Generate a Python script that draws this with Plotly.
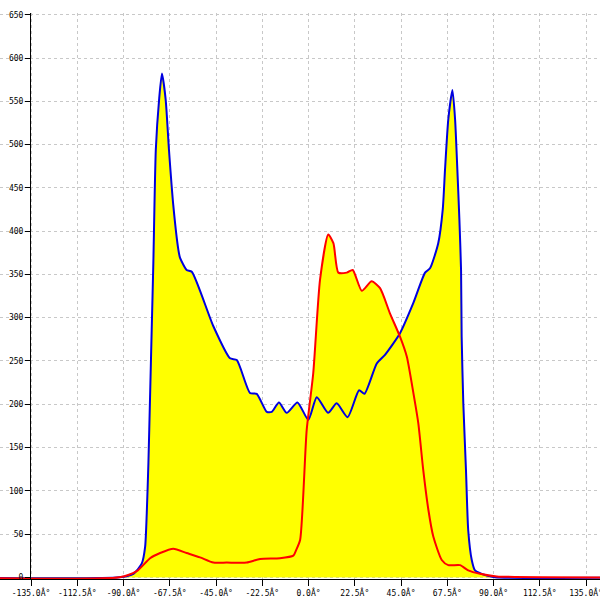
import plotly.graph_objects as go

# angle (deg) and counts
blue_x = [-180, -92, -85.2, -81.1, -79.5, -78.7, -77.9, -77.1, -76.3, -75.5, -74.3, -72.7, -71.3,
          -69.5, -67.9, -65.8, -63.3, -62.5, -59.3, -56.8, -46.3, -38.2, -34.9, -28.5, -25.2,
          -20.3, -17.9, -14.4, -10.6, -5.4, -0.1, 4.0, 9.5, 13.7, 19.0, 24.6, 27.2, 33.2, 37.2,
          44.5, 51.0, 56.7, 59.1, 63.1, 65.3, 66.4, 68.0, 70.0, 71.3, 72.4, 73.4, 74.2, 74.5,
          75.3, 76.6, 77.7, 79.4, 81.0, 86.7, 90.7, 180]
blue_y = [0, 0, 4, 16, 35, 74, 132, 208, 286, 363, 494, 552, 582,
          552, 494, 430, 378, 369, 355, 353, 290, 253, 251, 213, 212,
          191, 191, 202, 190, 202, 182, 208, 190, 201, 185, 216, 212, 247, 257,
          282, 317, 352, 357, 386, 425, 471, 529, 563, 529, 471, 413, 355, 278,
          201, 124, 54, 20, 8, 2, 0, 0]

red_x = [-180, -92, -83.6, -77.1, -72.2, -65.8, -59.3, -52.8, -46.3, -39.8, -30.1, -23.6, -13.9,
         -7.4, -6.1, -4.1, -0.9, 2.3, 5.6, 9.6, 12.1, 14.5, 18.6, 21.5, 25.9, 30.7, 34.8,
         39.6, 44.5, 47.8, 51.0, 53.4, 55.8, 58.3, 60.7, 64.8, 68.0, 73.7, 77.7, 83.4, 91.6, 180]
red_y = [0, 0, 7, 22, 28, 33, 28, 23, 17, 17, 17, 21, 22,
         25, 31, 43, 170, 236, 344, 396, 386, 352, 352, 355, 331, 342, 334,
         305, 278, 255, 213, 178, 124, 78, 47, 20, 14, 14, 8, 4, 1, 0]

tick_vals = [-135, -112.5, -90, -67.5, -45, -22.5, 0, 22.5, 45, 67.5, 90, 112.5, 135]
tick_text = ["%.1fÂ°" % v for v in tick_vals]
y_ticks = list(range(0, 651, 50))

fig = go.Figure()
# yellow fills first, lines on top
for xs, ys in [(blue_x, blue_y), (red_x, red_y)]:
    fig.add_trace(go.Scatter(x=xs, y=ys, mode="lines", fill="tozeroy",
                             fillcolor="#ffff00", line=dict(width=0, shape="spline", smoothing=0.6),
                             hoverinfo="skip"))
fig.add_trace(go.Scatter(x=blue_x, y=blue_y, mode="lines",
                         line=dict(color="#0000e0", width=2, shape="spline", smoothing=0.6)))
fig.add_trace(go.Scatter(x=red_x, y=red_y, mode="lines",
                         line=dict(color="#ff0000", width=2, shape="spline", smoothing=0.6)))

fig.update_layout(
    template="none",
    width=600, height=600,
    margin=dict(l=0, r=0, t=13.3, b=21.3),
    showlegend=False,
    paper_bgcolor="white", plot_bgcolor="white",
    font=dict(family="DejaVu Sans Mono", size=8, color="black"),
)
fig.update_xaxes(range=[-150.1, 141.8], tickvals=tick_vals, ticktext=tick_text,
                 showgrid=True, gridcolor="#c8c8c8", griddash="3px,3px", gridwidth=1,
                 showline=True, linecolor="black", linewidth=1,
                 ticks="outside", ticklen=6, tickcolor="black", zeroline=False,
                 automargin=False, ticklabeloverflow="allow")
fig.update_yaxes(range=[-2, 652], tickvals=y_ticks, anchor="free", position=0.05,
                 showgrid=True, gridcolor="#c8c8c8", griddash="3px,3px", gridwidth=1,
                 showline=True, linecolor="black", linewidth=1,
                 ticks="outside", ticklen=5, tickcolor="black", zeroline=False,
                 automargin=False, ticklabeloverflow="allow")

# page has a default 8px body margin, drop it so the chart sits at the corner
fig.write_html("out.html", config={"displayModeBar": False},
               post_script="document.body.style.margin='0';")
